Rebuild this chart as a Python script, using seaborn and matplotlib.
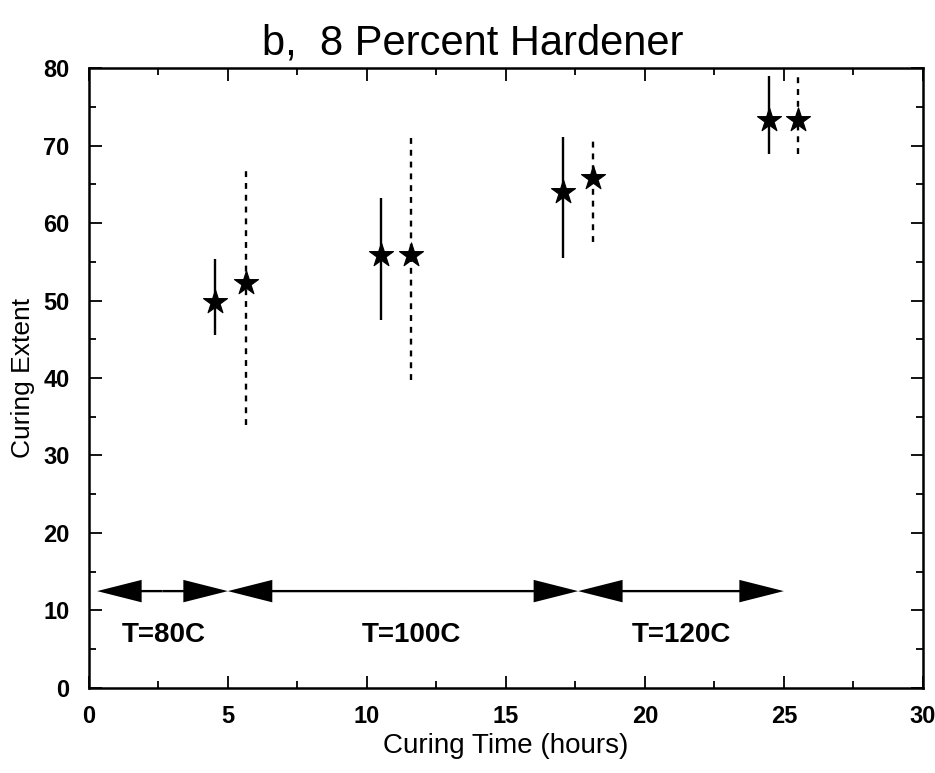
import numpy as np
import pandas as pd
import matplotlib
matplotlib.use("Agg")
import matplotlib.pyplot as plt
import seaborn as sns
from matplotlib.ticker import MultipleLocator

# =============================
# DATA
# =============================
time_solid = [4.55, 10.5, 17.05, 24.45]
ext_solid = [49.8, 55.9, 64.0, 73.3]
lo_solid = [45.5, 47.5, 55.5, 68.9]
hi_solid = [55.3, 63.2, 71.1, 79.0]

time_dashed = [5.65, 11.6, 18.15, 25.5]
ext_dashed = [52.3, 55.9, 65.8, 73.3]
lo_dashed = [33.9, 39.7, 57.5, 68.9]
hi_dashed = [67.2, 71.6, 71.0, 78.8]

# temperature regimes (start, end, label)
regime_start = [0.3, 5.0, 17.6]
regime_end = [5.0, 17.6, 25.0]
regime_labels = ["T=80C", "T=100C", "T=120C"]
regime_label_x = [2.7, 11.6, 21.3]
regime_y = 12.5
regime_label_y = 6.8

df = pd.DataFrame({
    "time": time_solid + time_dashed,
    "extent": ext_solid + ext_dashed,
    "run": ["solid"] * len(time_solid) + ["dashed"] * len(time_dashed),
})

# =============================
# STYLE
# =============================
sns.set_theme(style="ticks")
plt.rcParams["font.family"] = ["Liberation Sans", "DejaVu Sans"]
plt.rcParams["text.color"] = "black"
plt.rcParams["axes.labelcolor"] = "black"
plt.rcParams["xtick.color"] = "black"
plt.rcParams["ytick.color"] = "black"

fig, ax = plt.subplots(figsize=(9.35, 7.73), dpi=100)
fig.subplots_adjust(left=0.095, right=0.987, bottom=0.11, top=0.912)

# error bars
ax.vlines(time_solid, lo_solid, hi_solid, colors="black", linewidth=1.7,
          linestyles="solid", zorder=2)
ax.vlines(time_dashed, lo_dashed, hi_dashed, colors="black", linewidth=1.7,
          linestyles=(0, (2.5, 2.5)), zorder=2)

# star markers
sns.scatterplot(data=df, x="time", y="extent", marker="*", s=330,
                color="black", edgecolor="black", linewidth=0.8,
                legend=False, ax=ax, zorder=3)

# temperature regime arrows (two half-arrows from the middle so the tips
# land exactly on the regime boundaries)
for x0, x1 in zip(regime_start, regime_end):
    mid = (x0 + x1) / 2
    for end in (x0, x1):
        ax.arrow(mid, regime_y, end - mid, 0, width=0.3, head_width=2.9,
                 head_length=1.6, length_includes_head=True,
                 color="black", linewidth=0)
for lx, lab in zip(regime_label_x, regime_labels):
    ax.text(lx, regime_label_y, lab, ha="center", va="center",
            fontsize=20, fontweight="bold")

# axes
ax.set_xlim(0, 30)
ax.set_ylim(0, 80)
ax.xaxis.set_major_locator(MultipleLocator(5))
ax.xaxis.set_minor_locator(MultipleLocator(2.5))
ax.yaxis.set_major_locator(MultipleLocator(10))
ax.yaxis.set_minor_locator(MultipleLocator(5))
ax.tick_params(which="both", direction="in", top=True, right=True,
               color="black", width=1.3)
ax.tick_params(which="major", length=9, labelsize=17)
ax.tick_params(axis="y", which="major", pad=14)
ax.tick_params(axis="x", which="major", pad=12)
ax.tick_params(which="minor", length=5)
for lbl in ax.get_xticklabels() + ax.get_yticklabels():
    lbl.set_fontweight("bold")
for sp in ax.spines.values():
    sp.set_linewidth(1.8)
    sp.set_color("black")

ax.set_xlabel("Curing Time (hours)", fontsize=20, labelpad=4)
ax.set_ylabel("Curing Extent", fontsize=19, labelpad=6)
ax.set_title("b,  8 Percent Hardener", fontsize=30, pad=10, x=0.46)

plt.savefig("out.png", dpi=100)
plt.close()
